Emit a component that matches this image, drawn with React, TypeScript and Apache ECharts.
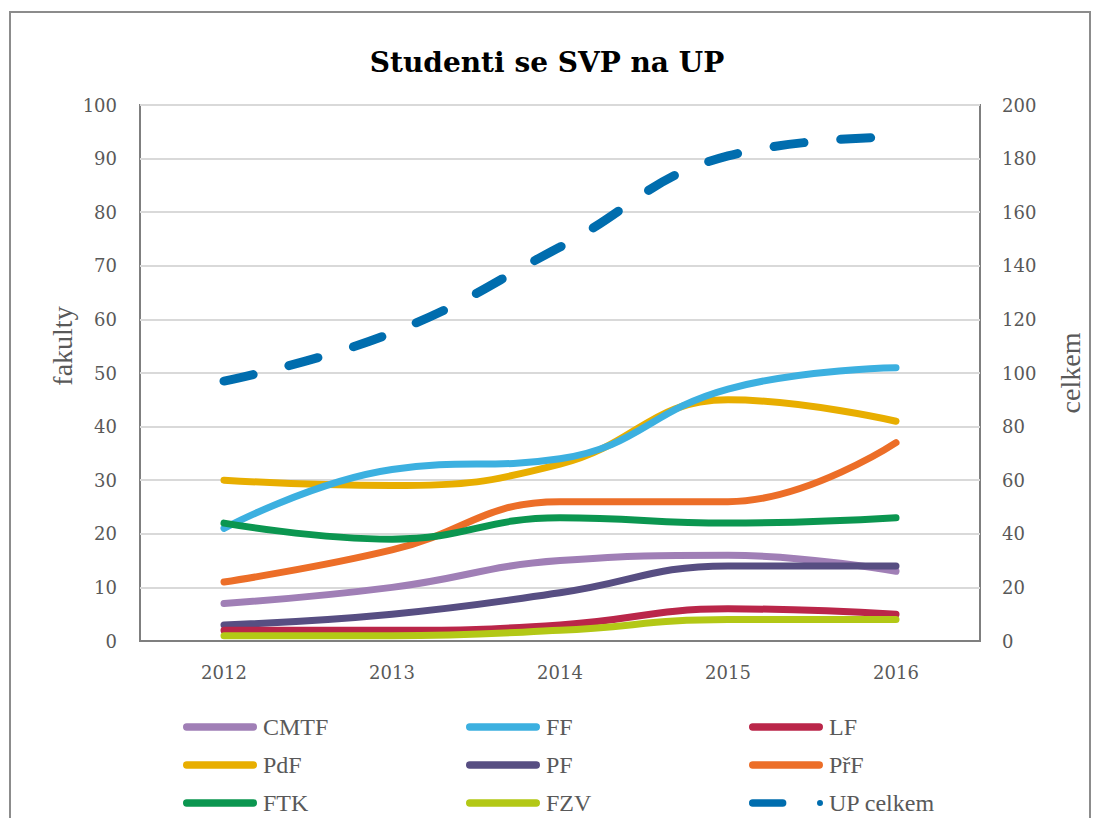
import React, { useEffect, useRef } from "react";
import * as echarts from "echarts";

const years = ["2012", "2013", "2014", "2015", "2016"];
const cmtf = [7, 10, 15, 16, 13];
const ff = [21, 32, 34, 47, 51];
const lf = [2, 2, 3, 6, 5];
const pdf = [30, 29, 33, 45, 41];
const pf = [3, 5, 9, 14, 14];
const prf = [11, 17, 26, 26, 37];
const ftk = [22, 19, 23, 22, 23];
const fzv = [1, 1, 2, 4, 4];
const upCelkem = [97, 115, 147, 181, 188];

const facultySeries = [
  { name: "CMTF", data: cmtf, color: "#A07FB6" },
  { name: "FF", data: ff, color: "#3CB0E0" },
  { name: "LF", data: lf, color: "#BA2649" },
  { name: "PdF", data: pdf, color: "#E8AE00" },
  { name: "PF", data: pf, color: "#574E82" },
  { name: "PřF", data: prf, color: "#EC6E28" },
  { name: "FTK", data: ftk, color: "#0B9650" },
  { name: "FZV", data: fzv, color: "#B3C816" },
];
const drawOrder = ["PdF", "FF", "PřF", "FTK", "CMTF", "PF", "LF", "FZV"];

// legend grid: rows x columns
const legendRows = [
  ["CMTF", "FF", "LF"],
  ["PdF", "PF", "PřF"],
  ["FTK", "FZV", "UP celkem"],
];

const barIcon = "path://M5,0 L95,0 A5,5 0 0 1 95,10 L5,10 A5,5 0 0 1 5,0 Z";
const dashDotIcon =
  "path://M5,0 L45,0 A5,5 0 0 1 45,10 L5,10 A5,5 0 0 1 5,0 Z M91,5 A4,4 0 1 1 99,5 A4,4 0 1 1 91,5 Z";

const serif = "Liberation Serif";
const numFont = "DejaVu Serif";
const textColor = "#595959";

export default function App() {
  const ref = useRef<HTMLDivElement>(null);
  useEffect(() => {
    if (!ref.current) return;
    const chart = echarts.init(ref.current, undefined, { renderer: "svg" });
    const series: any[] = drawOrder.map((n) => {
      const s = facultySeries.find((f) => f.name === n)!;
      return {
        name: s.name,
        type: "line",
        data: s.data,
        yAxisIndex: 0,
        smooth: 0.45,
        showSymbol: false,
        symbol: "none",
        color: s.color,
        lineStyle: { width: 7, color: s.color, cap: "round", join: "round" },
      };
    });
    series.push({
      name: "UP celkem",
      type: "line",
      data: upCelkem,
      yAxisIndex: 1,
      smooth: 0.45,
      showSymbol: false,
      symbol: "none",
      color: "#006DAE",
      lineStyle: { width: 9, color: "#006DAE", type: [30, 37], cap: "round" },
    });

    const colX = [183, 466, 749];
    const rowY = [727, 765, 803];
    const legends: any[] = [];
    legendRows.forEach((row, ri) => {
      row.forEach((name, ci) => {
        legends.push({
          left: colX[ci],
          top: rowY[ri] - 12,
          itemWidth: 74,
          itemHeight: 8,
          padding: 0,
          textStyle: {
            fontFamily: serif,
            fontSize: 24,
            color: textColor,
            lineHeight: 24,
            padding: [0, 0, 0, 1],
          },
          data: [{ name, icon: name === "UP celkem" ? dashDotIcon : barIcon }],
        });
      });
    });

    chart.setOption({
      animation: false,
      backgroundColor: "#ffffff",
      title: {
        text: "Studenti se SVP na UP",
        left: "center",
        top: 43,
        textStyle: {
          fontFamily: numFont,
          fontWeight: "bold",
          fontSize: 28,
          color: "#000000",
        },
      },
      grid: {
        left: 140,
        right: 114,
        top: 105,
        bottom: 177,
        show: true,
        borderColor: "#7F7F7F",
        borderWidth: 2,
        containLabel: false,
      },
      legend: legends,
      xAxis: {
        type: "category",
        data: years,
        boundaryGap: true,
        axisLine: { show: true, lineStyle: { color: "#7F7F7F", width: 2 } },
        axisTick: { show: false },
        axisLabel: {
          fontFamily: numFont,
          fontSize: 18,
          color: textColor,
          margin: 22,
        },
      },
      yAxis: [
        {
          type: "value",
          min: 0,
          max: 100,
          interval: 10,
          axisLine: { show: false },
          axisTick: { show: false },
          splitLine: { show: true, lineStyle: { color: "#D9D9D9", width: 2 } },
          axisLabel: {
            fontFamily: numFont,
            fontSize: 18,
            color: textColor,
            margin: 23,
          },
        },
        {
          type: "value",
          min: 0,
          max: 200,
          interval: 20,
          position: "right",
          axisLine: { show: false },
          axisTick: { show: false },
          splitLine: { show: false },
          axisLabel: {
            fontFamily: numFont,
            fontSize: 18,
            color: textColor,
            margin: 22,
          },
        },
      ],
      graphic: [
        {
          type: "rect",
          shape: { x: 10, y: 12, width: 1080, height: 830 },
          style: { fill: "none", stroke: "#8C8C8C", lineWidth: 2 },
          silent: true,
          z: -10,
        },
        {
          type: "text",
          x: 62,
          y: 346,
          rotation: Math.PI / 2,
          style: {
            text: "fakulty",
            fontFamily: serif,
            fontSize: 28,
            fill: textColor,
            align: "center",
            verticalAlign: "middle",
          },
        },
        {
          type: "text",
          x: 1070,
          y: 373,
          rotation: Math.PI / 2,
          style: {
            text: "celkem",
            fontFamily: serif,
            fontSize: 28,
            fill: textColor,
            align: "center",
            verticalAlign: "middle",
          },
        },
      ],
      series,
    });
    return () => chart.dispose();
  }, []);
  return (
    <div
      ref={ref}
      style={{ position: "fixed", left: 0, top: 0, width: 1094, height: 818 }}
    />
  );
}
